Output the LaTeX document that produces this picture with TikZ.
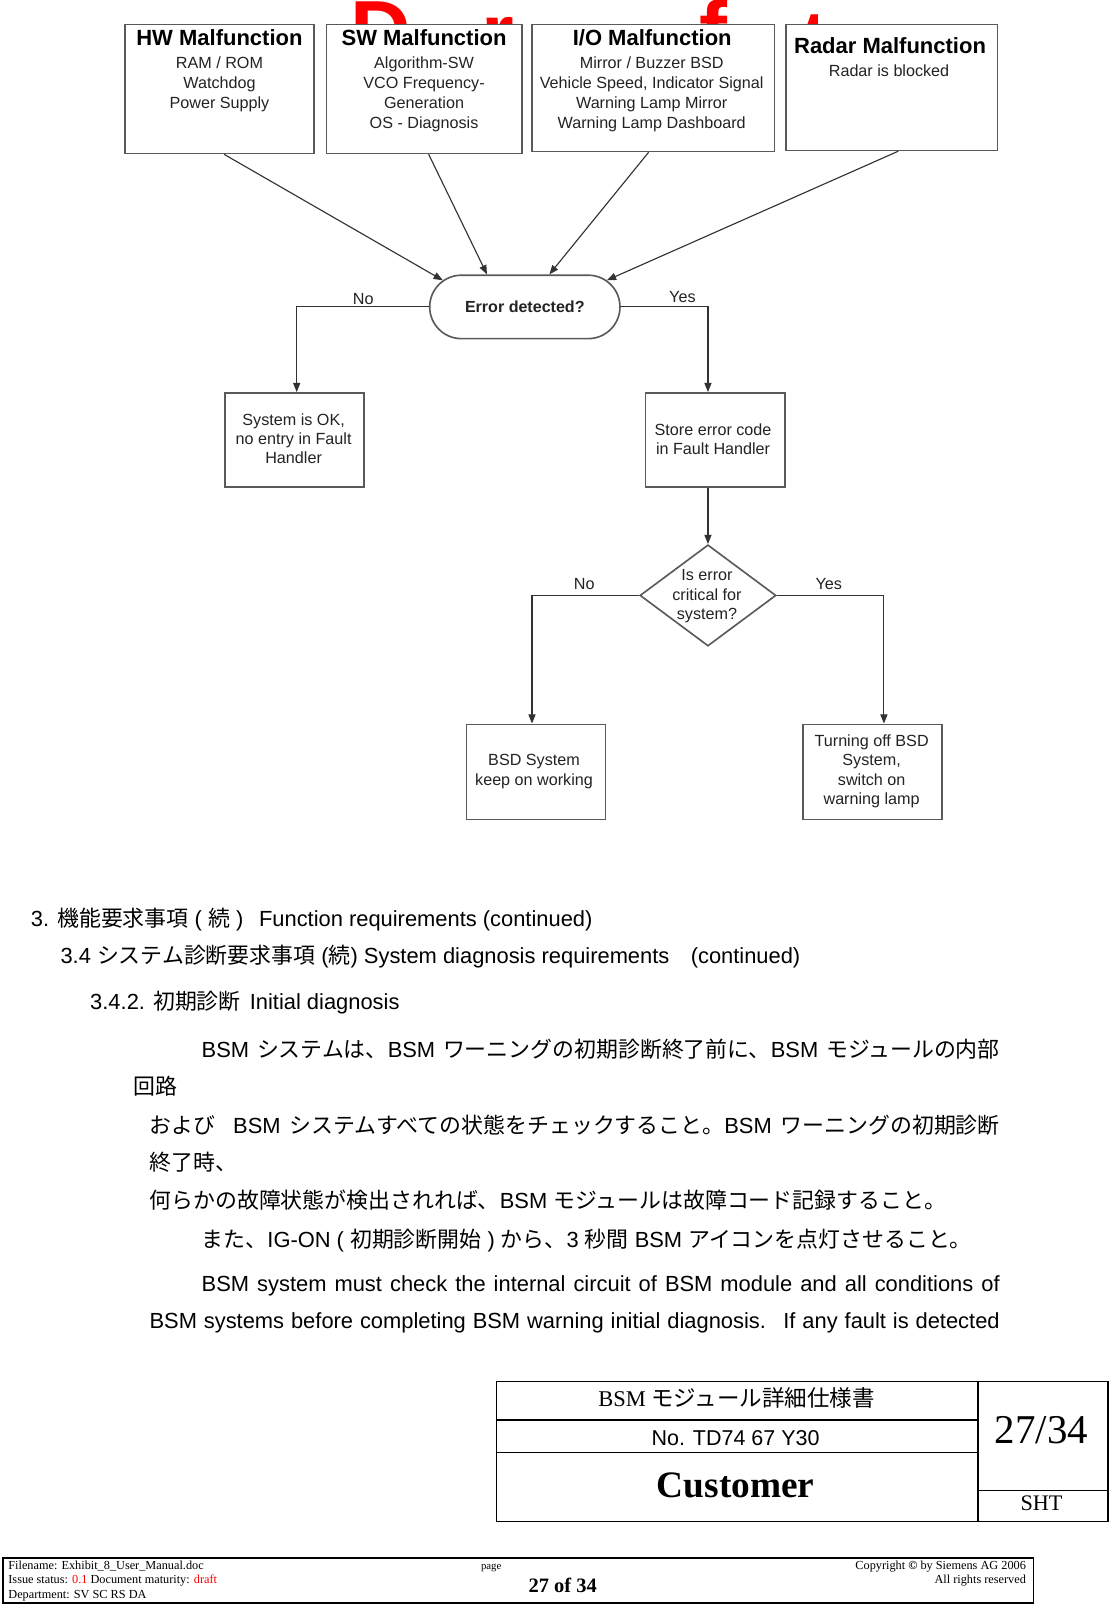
\documentclass[tikz,border=0pt]{standalone}
\usepackage{fontspec}
\setmainfont{Liberation Sans}
\newfontfamily\tmsf{Liberation Serif}
\newfontfamily\jpf{Noto Sans CJK JP}
\newcommand\J[1]{{\jpf #1}}
\usetikzlibrary{shapes.geometric,shapes.misc,arrows.meta}
\definecolor{boxline}{RGB}{90,90,90}
\definecolor{conn}{RGB}{50,50,50}
\definecolor{txtg}{RGB}{35,35,35}
\definecolor{wmred}{RGB}{255,0,0}
\tikzset{
 fbox/.style={draw=boxline, line width=1.6pt, fill=white, inner sep=0pt},
 ln/.style={inner sep=0pt, anchor=base, text=txtg, font=\fontsize{15.8}{19}\selectfont},
 ttl/.style={inner sep=0pt, anchor=base, text=black, font=\bfseries\fontsize{21.5}{24}\selectfont},
 arr/.style={draw=conn, line width=1.1pt, -{Triangle[length=9pt,width=7pt]}},
 para/.style={inner sep=0pt, anchor=base west, font=\fontsize{21.4}{25}\selectfont},
 wm/.style={inner sep=0pt, anchor=north west, text=wmred, font=\bfseries\fontsize{82}{90}\selectfont},
 foot/.style={inner sep=0pt, font=\tmsf\fontsize{12}{14}\selectfont},
 tbl/.style={draw=black, line width=1.1pt},
}
\begin{document}
\begin{tikzpicture}[x=1pt,y=-1pt]
\useasboundingbox (0,0) rectangle (1085,1569.8);
\fill[white] (0,0) rectangle (1085,1569.8);

% watermark letters (behind boxes)
\node[wm] (wD) at (342,2) {D};
\node[wm] (wr) at (470,17) {r};
\node[wm] (wa) at (583,25) {a};
\node[wm] (wf) at (684,0) {f};
\node[wm] (wt) at (782,14) {t};

% top boxes
\node[fbox, minimum width=185pt, minimum height=126pt] (hw) at (214.5,87) {};
\node[fbox, minimum width=191pt, minimum height=126pt] (sw) at (414.5,87) {};
\node[fbox, minimum width=237pt, minimum height=124pt] (io) at (638.5,86) {};
\node[fbox, minimum width=207pt, minimum height=123pt] (rd) at (871.5,85.5) {};

\node[ttl] (hwt) at (214.5,44.6) {HW Malfunction};
\node[ln] (hw1) at (214.5,66.8) {RAM / ROM};
\node[ln] (hw2) at (214.5,86.3) {Watchdog};
\node[ln] (hw3) at (214.5,105.8) {Power Supply};

\node[ttl] (swt) at (414.5,44.6) {SW Malfunction};
\node[ln] (sw1) at (414.5,66.8) {Algorithm-SW};
\node[ln] (sw2) at (414.5,86.3) {VCO Frequency-};
\node[ln] (sw3) at (414.5,105.8) {Generation};
\node[ln] (sw4) at (414.5,125.3) {OS - Diagnosis};

\node[ttl] (iot) at (637.5,44.6) {I/O Malfunction};
\node[ln] (io1) at (637,66.8) {Mirror / Buzzer BSD};
\node[ln] (io2) at (637,86.3) {Vehicle Speed, Indicator Signal};
\node[ln] (io3) at (637,105.8) {Warning Lamp Mirror};
\node[ln] (io4) at (637,125.3) {Warning Lamp Dashboard};

\node[ttl] (rdt) at (870,52.6) {Radar Malfunction};
\node[ln] (rd1) at (869,74.8) {Radar is blocked};

% decision 1
\node[draw=boxline, line width=1.6pt, rounded rectangle, minimum width=186pt, minimum height=62pt, inner sep=0pt, font=\bfseries\fontsize{15.7}{19}\selectfont, text=txtg] (err) at (513,300) {Error detected?};

\draw[arr] ([xshift=4.5pt]hw.south) -- (err.162);
\draw[arr] ([xshift=4.5pt]sw.south) -- ([xshift=-37pt]err.north);
\draw[arr] ([xshift=-4.5pt]io.south) -- ([xshift=24pt]err.north);
\draw[arr] ([xshift=6.5pt]rd.south) -- (err.18);

% second row boxes
\node[fbox, minimum width=136pt, minimum height=92pt] (ok) at (288,430) {};
\node[ln] (ok1) at (287,415.5) {System is OK,};
\node[ln] (ok2) at (287,434.5) {no entry in Fault};
\node[ln] (ok3) at (287,453.5) {Handler};

\node[fbox, minimum width=136pt, minimum height=92pt] (st) at (699,430) {};
\node[ln] (st1) at (697,425.5) {Store error code};
\node[ln] (st2) at (697,444.5) {in Fault Handler};

\draw[arr] (err.west) -| ([xshift=2pt]ok.north);
\draw[arr] (err.east) -| ([xshift=-7pt]st.north);
\node[ln] (no1) at (355,297.5) {No};
\node[ln] (ye1) at (667,295.5) {Yes};

% decision 2
\node[draw=boxline, line width=1.6pt, diamond, minimum width=133pt, minimum height=99pt, inner sep=0pt] (dia) at (692,582) {};
\node[ln] (di1) at (691,567.5) {Is error};
\node[ln] (di2) at (691,586.5) {critical for};
\node[ln] (di3) at (691,605.5) {system?};
\draw[arr] ([xshift=-7pt]st.south) -- (dia.north);

\node[fbox, minimum width=136pt, minimum height=93pt] (bsd) at (524,754.5) {};
\node[ln] (bs1) at (522,748.5) {BSD System};
\node[ln] (bs2) at (522,767.5) {keep on working};

\node[fbox, minimum width=136pt, minimum height=93pt] (tu) at (853,754.5) {};
\node[ln] (tu1) at (852,729.5) {Turning off BSD};
\node[ln] (tu2) at (852,748.5) {System,};
\node[ln] (tu3) at (852,767.5) {switch on};
\node[ln] (tu4) at (852,786.5) {warning lamp};

\draw[arr] (dia.west) -| ([xshift=-4pt]bsd.north);
\draw[arr] (dia.east) -| ([xshift=11pt]tu.north);
\node[ln] (no2) at (571,576.5) {No};
\node[ln] (ye2) at (810,576.5) {Yes};

% text section
\node[para] (h1a) at (30,905.5) {3. \J{機能要求事項} ( \J{続} )};
\node[para] (h1b) at (253,905.5) {Function requirements (continued)};
\node[para] (h2a) at (59,941.5) {3.4 \J{システム診断要求事項} (\J{続}) System diagnosis requirements};
\node[para] (h2b) at (675,941.5) {(continued)};
\node[para] (h3a) at (88,986.5) {3.4.2. \J{初期診断}};
\node[para] (h3b) at (244,986.5) {Initial diagnosis};

\node[para] (p1) at (197,1033.5) {\makebox[780pt][s]{BSM \J{システムは、}BSM \J{ワーニングの初期診断終了前に、}BSM \J{モジュールの内部}}};
\node[para] (p2) at (130,1069.5) {\J{回路}};
\node[para] (p3) at (146,1107.5) {\makebox[831pt][s]{\J{および} \ BSM \J{システムすべての状態をチェックすること。}BSM \J{ワーニングの初期診断}}};
\node[para] (p4) at (146,1144.5) {\J{終了時、}};
\node[para] (p5) at (146,1181.5) {\J{何らかの故障状態が検出されれば、}BSM \J{モジュールは故障コード記録すること。}};
\node[para] (p6) at (197,1219.5) {\J{また、}IG-ON ( \J{初期診断開始} ) \J{から、}3 \J{秒間} BSM \J{アイコンを点灯させること。}};
\node[para] (p7) at (197,1262.5) {\makebox[780pt][s]{BSM system must check the internal circuit of BSM module and all conditions of}};
\node[para] (p8) at (146,1298.5) {\makebox[831pt][s]{BSM systems before completing BSM warning initial diagnosis. \ If any fault is detected}};

% title block
\draw[tbl] (485,1350) rectangle (1083,1487);
\draw[tbl] (485,1388) -- (956,1388);
\draw[tbl] (485,1420) -- (956,1420);
\draw[tbl] (956,1350) -- (956,1487);
\draw[tbl] (956,1457) -- (1083,1457);
\node[inner sep=0pt, anchor=base, font=\tmsf\fontsize{22}{26}\selectfont] (tb1) at (720,1375) {BSM \J{モジュール詳細仕様書}};
\node[inner sep=0pt, anchor=base, font=\fontsize{21}{25}\selectfont] (tb2) at (719,1412.5) {No. TD74 67 Y30};
\node[inner sep=0pt, anchor=base, font=\tmsf\bfseries\fontsize{36.5}{40}\selectfont] (tb3) at (719,1464) {Customer};
\node[inner sep=0pt, anchor=base, font=\tmsf\fontsize{40}{44}\selectfont] (tb4) at (1018,1410.5) {27/34};
\node[inner sep=0pt, anchor=base, font=\tmsf\fontsize{21.7}{25}\selectfont] (tb5) at (1018,1476) {SHT};

% footer
\draw[draw=black, line width=1.5pt] (3,1523) rectangle (1010,1567);
\node[foot, anchor=base west] (f1) at (8,1534) {Filename: Exhibit\_8\_User\_Manual.doc};
\node[foot, anchor=base west] (f2) at (8,1548) {Issue status: \textcolor{red}{0.1} Document maturity: \textcolor{red}{draft}};
\node[foot, anchor=base west] (f3) at (8,1562) {Department: SV SC RS DA};
\node[foot, anchor=base west, font=\tmsf\fontsize{10.5}{12}\selectfont] (f4) at (470,1534) {page};
\node[inner sep=0pt, anchor=base, font=\tmsf\bfseries\fontsize{20}{24}\selectfont] (f5) at (550,1557) {27 of 34};
\node[foot, anchor=base east] (f6) at (1003,1534) {Copyright \textbf{\textcopyright} by Siemens AG 2006};
\node[foot, anchor=base east] (f7) at (1003,1548) {All rights reserved};
\end{tikzpicture}
\end{document}
